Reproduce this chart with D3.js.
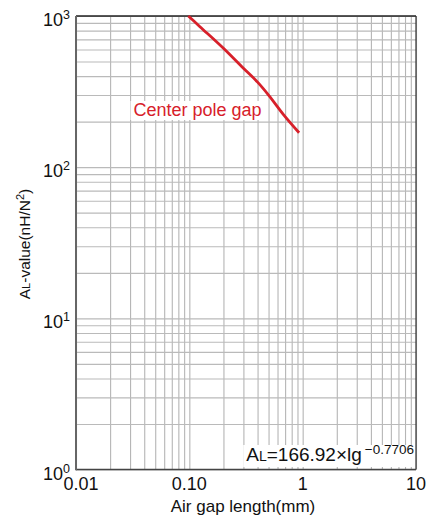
<!DOCTYPE html>
<html>
<head>
<meta charset="utf-8">
<script src="https://cdn.jsdelivr.net/npm/d3@7"></script>
<style>
  html, body { margin: 0; padding: 0; background: #fff; }
  svg { display: block; font-family: "Liberation Sans", Arial, Helvetica, sans-serif; }
</style>
</head>
<body>
<svg id="chart" width="427" height="515"></svg>
<script>
// Center pole gap curve: air gap length (mm) vs AL-value (nH/N²)
const gapLength = [0.098, 0.124, 0.2, 0.3, 0.4, 0.5, 0.68, 0.93];
const alValue   = [1000, 850, 611, 451, 365, 300, 222, 169];

const xTickValues = [0.01, 0.1, 1, 10];
const xTickLabels = ["0.01", "0.10", "1", "10"];
const yTickExponents = [0, 1, 2, 3];

const seriesLabel = "Center pole gap";
const formulaCoef = "166.92";
const formulaExp = "−0.7706";

const svg = d3.select("#chart");
const plotLeft = 76, plotRight = 416, plotTop = 16, plotBottom = 469.5;

const x = d3.scaleLog().domain([0.01, 10]).range([plotLeft, plotRight]);
const y = d3.scaleLog().domain([1, 1000]).range([plotBottom, plotTop]);

// grid values: 1..9 per decade
const xGrid = [];
[0.01, 0.1, 1].forEach(d => { for (let k = 1; k <= 9; k++) xGrid.push(d * k); });
xGrid.push(10);
const yGrid = [];
[1, 10, 100].forEach(d => { for (let k = 1; k <= 9; k++) yGrid.push(d * k); });
yGrid.push(1000);

const grid = svg.append("g");
grid.append("g")
  .attr("transform", `translate(0,${plotBottom})`)
  .call(d3.axisBottom(x).tickValues(xGrid).tickSize(-(plotBottom - plotTop)).tickFormat(""))
  .call(g => g.select(".domain").remove())
  .call(g => g.selectAll("line").attr("stroke", "#b5b5b5").attr("stroke-width", 1.1));
grid.append("g")
  .attr("transform", `translate(${plotLeft},0)`)
  .call(d3.axisLeft(y).tickValues(yGrid).tickSize(-(plotRight - plotLeft)).tickFormat(""))
  .call(g => g.select(".domain").remove())
  .call(g => g.selectAll("line").attr("stroke", "#bababa").attr("stroke-width", 1.1));

// frame
svg.append("line").attr("x1", plotLeft).attr("x2", plotRight).attr("y1", plotTop).attr("y2", plotTop)
  .attr("stroke", "#222").attr("stroke-width", 1.3);
svg.append("line").attr("x1", plotRight).attr("x2", plotRight).attr("y1", plotTop).attr("y2", plotBottom)
  .attr("stroke", "#333").attr("stroke-width", 1.2);
svg.append("line").attr("x1", plotLeft).attr("x2", plotRight).attr("y1", plotBottom).attr("y2", plotBottom)
  .attr("stroke", "#444").attr("stroke-width", 1.5);
svg.append("line").attr("x1", plotLeft).attr("x2", plotLeft).attr("y1", plotTop).attr("y2", plotBottom + 0.75)
  .attr("stroke", "#666").attr("stroke-width", 2);

// curve
const pts = gapLength.map((g, i) => [g, alValue[i]]);
svg.append("path")
  .datum(pts)
  .attr("fill", "none")
  .attr("stroke", "#d7202a")
  .attr("stroke-width", 2.8)
  .attr("d", d3.line().x(d => x(d[0])).y(d => y(d[1])).curve(d3.curveMonotoneX));

// series label with white backing
const lab = svg.append("g");
const labText = lab.append("text")
  .attr("x", 133.5).attr("y", 116)
  .attr("fill", "#d7202a")
  .attr("font-size", 18)
  .text(seriesLabel);
const lb = labText.node().getBBox();
lab.insert("rect", "text")
  .attr("x", lb.x - 3).attr("y", lb.y + 1).attr("width", lb.width + 6).attr("height", lb.height - 1)
  .attr("fill", "#fff");

// formula label bottom right
const fm = svg.append("g");
const fmText = fm.append("text")
  .attr("x", 414).attr("y", 460.7)
  .attr("text-anchor", "end")
  .attr("font-size", 19)
  .attr("fill", "#111");
fmText.append("tspan").text("A");
fmText.append("tspan").attr("font-size", 14).text("L");
fmText.append("tspan").text("=" + formulaCoef + "×lg");
fmText.append("tspan").attr("font-size", 13.5).attr("dy", -7).attr("dx", 3).text(formulaExp);
const fb = fmText.node().getBBox();
fm.insert("rect", "text")
  .attr("x", fb.x - 3).attr("y", 445).attr("width", plotRight - 1 - (fb.x - 3)).attr("height", 22)
  .attr("fill", "#fff");

// x tick labels
svg.append("g").selectAll("text")
  .data(xTickValues)
  .join("text")
  .attr("x", (d, i) => x(d) + (i === 0 ? 5 : 0))
  .attr("y", 490)
  .attr("text-anchor", "middle")
  .attr("font-size", 18)
  .attr("fill", "#111")
  .text((d, i) => xTickLabels[i]);

// y tick labels 10^n
const yl = svg.append("g").selectAll("text")
  .data(yTickExponents)
  .join("text")
  .attr("x", 70)
  .attr("y", d => y(Math.pow(10, d)) + 10)
  .attr("text-anchor", "end")
  .attr("font-size", 18)
  .attr("fill", "#111");
yl.append("tspan").text("10");
yl.append("tspan").attr("font-size", 12.5).attr("dy", -7).text(d => d);

// axis titles
svg.append("text")
  .attr("x", (plotLeft + plotRight) / 2 - 3)
  .attr("y", 511.5)
  .attr("text-anchor", "middle")
  .attr("font-size", 17)
  .attr("fill", "#111")
  .text("Air gap length(mm)");

const yt = svg.append("text")
  .attr("transform", `translate(30,244) rotate(-90)`)
  .attr("text-anchor", "middle")
  .attr("font-size", 15.5)
  .attr("fill", "#111");
yt.append("tspan").text("A");
yt.append("tspan").attr("font-size", 11).text("L");
yt.append("tspan").text("-value(nH/N");
yt.append("tspan").attr("font-size", 11).attr("dy", -6).text("2");
yt.append("tspan").attr("dy", 6).text(")");
</script>
</body>
</html>
